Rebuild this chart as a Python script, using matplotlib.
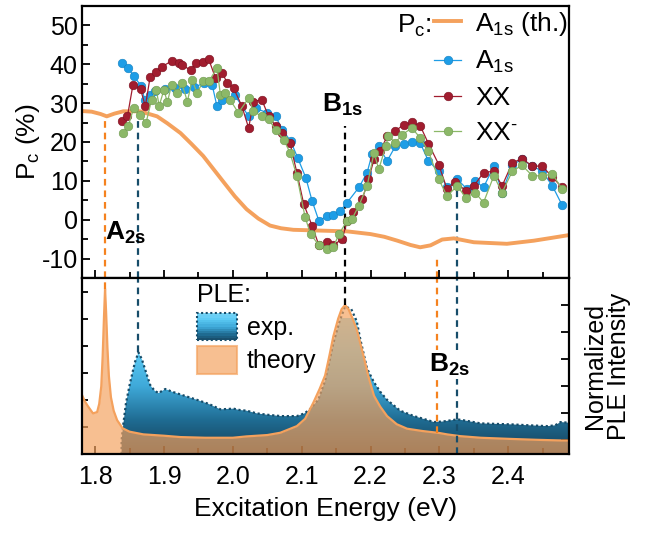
import numpy as np
import matplotlib
matplotlib.use("Agg")
import matplotlib.pyplot as plt
from matplotlib.patches import Polygon, Patch, Rectangle
from matplotlib.legend_handler import HandlerBase
from matplotlib.ticker import MultipleLocator
import matplotlib.colors as mcolors

plt.rcParams['font.family'] = ['Liberation Sans', 'DejaVu Sans']
plt.rcParams['mathtext.fontset'] = 'custom'
plt.rcParams['mathtext.rm'] = 'Liberation Sans'
plt.rcParams['mathtext.it'] = 'Liberation Sans:italic'
plt.rcParams['mathtext.bf'] = 'Liberation Sans:bold'
plt.rcParams['axes.unicode_minus'] = False

# ---- top panel: circular polarisation (%)
e_a1s = [1.839, 1.848, 1.856, 1.867, 1.872, 1.880, 1.887, 1.902, 1.916, 1.931, 1.943, 1.958,
         1.970, 1.977, 1.985, 2.003, 2.023, 2.033, 2.050, 2.062, 2.072, 2.084, 2.094, 2.106,
         2.115, 2.125, 2.137, 2.146, 2.156, 2.166, 2.183, 2.195, 2.202, 2.212, 2.224, 2.236,
         2.248, 2.260, 2.272, 2.284, 2.299, 2.311, 2.326, 2.340, 2.352, 2.364, 2.379, 2.391,
         2.406, 2.420, 2.435, 2.449, 2.464, 2.478]
pc_a1s = [40.4, 39.0, 37.0, 34.4, 30.9, 32.0, 33.0, 33.6, 34.0, 33.7, 34.1, 35.1,
          34.7, 29.2, 30.9, 32.0, 26.6, 28.7, 27.5, 26.6, 23.2, 20.2, 16.0, 10.8,
          4.9, -0.3, 1.0, 1.2, 2.3, 4.4, 8.3, 12.1, 16.8, 18.9, 15.1, 18.9,
          19.4, 20.0, 19.8, 15.1, 12.5, 8.3, 10.4, 7.9, 10.0, 8.3, 13.8, 7.0,
          14.2, 15.5, 13.8, 12.5, 8.7, 3.8]

e_xx = [1.839, 1.847, 1.855, 1.866, 1.873, 1.880, 1.888, 1.897, 1.912, 1.922, 1.926, 1.939,
        1.946, 1.956, 1.965, 1.975, 1.985, 1.992, 2.001, 2.013, 2.023, 2.030, 2.042, 2.052,
        2.062, 2.071, 2.083, 2.093, 2.103, 2.115, 2.125, 2.137, 2.146, 2.159, 2.166, 2.175,
        2.188, 2.197, 2.205, 2.214, 2.224, 2.236, 2.248, 2.260, 2.272, 2.284, 2.299, 2.311,
        2.323, 2.338, 2.350, 2.364, 2.379, 2.391, 2.406, 2.420, 2.435, 2.449, 2.464, 2.478]
pc_xx = [25.3, 26.6, 34.7, 33.6, 29.2, 36.8, 38.1, 39.4, 40.9, 40.3, 39.8, 38.5,
         40.3, 40.7, 41.3, 36.4, 37.7, 35.1, 33.9, 29.3, 23.6, 30.4, 30.9, 26.6,
         24.2, 22.3, 19.8, 12.1, 4.0, -1.5, -6.6, -5.8, -6.6, -4.9, -0.3, 1.9,
         5.3, 10.4, 15.5, 17.6, 21.5, 22.8, 24.5, 25.1, 24.2, 19.6, 14.2, 7.9,
         9.7, 7.5, 8.7, 12.1, 12.5, 8.7, 14.7, 15.7, 13.8, 13.8, 11.0, 8.3]

e_xxm = [1.840, 1.848, 1.856, 1.865, 1.874, 1.882, 1.889, 1.893, 1.900, 1.905, 1.911, 1.919,
         1.926, 1.934, 1.941, 1.948, 1.957, 1.965, 1.977, 1.982, 1.989, 1.996, 2.008, 2.023,
         2.030, 2.042, 2.052, 2.062, 2.074, 2.083, 2.093, 2.105, 2.113, 2.125, 2.137, 2.146,
         2.154, 2.166, 2.173, 2.183, 2.195, 2.205, 2.212, 2.222, 2.226, 2.236, 2.246, 2.260,
         2.272, 2.284, 2.299, 2.311, 2.326, 2.338, 2.352, 2.364, 2.379, 2.391, 2.406, 2.420,
         2.435, 2.449, 2.464, 2.478]
pc_xxm = [22.3, 24.0, 28.7, 27.0, 24.9, 30.9, 33.4, 29.3, 33.4, 30.2, 34.7, 32.6,
          35.1, 30.4, 36.0, 32.6, 35.6, 35.6, 39.0, 32.1, 32.6, 30.9, 27.5, 31.3,
          27.9, 26.6, 25.8, 23.2, 20.6, 17.2, 11.3, 0.6, -3.7, -6.6, -7.5, -7.1,
          -3.7, -0.3, 0.2, 3.6, 8.7, 17.2, 13.0, 18.9, 21.5, 19.8, 21.9, 23.6,
          21.1, 17.6, 10.4, 6.1, 8.7, 5.7, 7.0, 4.4, 11.3, 7.0, 12.5, 14.0,
          11.3, 11.3, 11.7, 8.0]

e_th = [1.778, 1.795, 1.808, 1.817, 1.828, 1.841, 1.865, 1.890, 1.905, 1.924, 1.940, 1.957,
        1.972, 1.987, 2.003, 2.020, 2.037, 2.054, 2.070, 2.088, 2.127, 2.166, 2.200, 2.220,
        2.239, 2.258, 2.272, 2.287, 2.304, 2.321, 2.350, 2.398, 2.437, 2.462, 2.490]
pc_th = [28.0, 27.8, 27.2, 26.6, 27.3, 27.9, 27.9, 26.6, 24.8, 22.3, 19.5, 16.4,
         13.0, 9.6, 6.0, 2.7, 0.3, -1.5, -2.2, -2.6, -2.8, -3.0, -3.7, -4.4,
         -5.4, -6.5, -7.1, -6.6, -5.1, -4.8, -5.8, -6.2, -5.4, -4.7, -3.9]

# ---- bottom panel: normalized PLE
e_ple_th = [1.778, 1.785, 1.790, 1.797, 1.803, 1.806, 1.809, 1.811, 1.813, 1.8145, 1.816, 1.818,
            1.820, 1.823, 1.827, 1.832, 1.840, 1.850, 1.870, 1.900, 1.924, 1.960, 2.000, 2.020,
            2.050, 2.069, 2.093, 2.105, 2.117, 2.126, 2.134, 2.140, 2.146, 2.153, 2.158, 2.163,
            2.168, 2.174, 2.180, 2.190, 2.197, 2.205, 2.214, 2.224, 2.238, 2.253, 2.275, 2.292,
            2.300, 2.311, 2.330, 2.360, 2.400, 2.440, 2.476, 2.490]
ple_th = [0.37, 0.29, 0.25, 0.20, 0.21, 0.27, 0.40, 0.62, 0.92, 1.12, 0.95, 0.68,
          0.48, 0.32, 0.22, 0.15, 0.09, 0.065, 0.045, 0.035, 0.025, 0.02, 0.02, 0.03,
          0.04, 0.057, 0.106, 0.16, 0.28, 0.38, 0.48, 0.62, 0.77, 0.9, 0.97, 1.0,
          0.97, 0.9, 0.82, 0.62, 0.47, 0.33, 0.25, 0.18, 0.12, 0.087, 0.07, 0.06,
          0.055, 0.045, 0.032, 0.02, 0.012, 0.005, 0.0, 0.0]

e_ple_exp = [1.8385, 1.841, 1.845, 1.851, 1.858, 1.863, 1.868, 1.873, 1.880, 1.886, 1.892, 1.902,
             1.912, 1.924, 1.936, 1.948, 1.965, 1.982, 2.001, 2.010, 2.020, 2.035, 2.050, 2.070,
             2.093, 2.104, 2.112, 2.124, 2.134, 2.146, 2.155, 2.163, 2.172, 2.180, 2.185, 2.195,
             2.205, 2.214, 2.224, 2.243, 2.263, 2.280, 2.292, 2.305, 2.326, 2.340, 2.360, 2.385,
             2.408, 2.430, 2.457, 2.468, 2.476, 2.490]
ple_exp = [0.0, 0.12, 0.28, 0.43, 0.58, 0.65, 0.6, 0.52, 0.41, 0.37, 0.35, 0.38,
           0.36, 0.34, 0.32, 0.30, 0.27, 0.23, 0.235, 0.225, 0.22, 0.2, 0.19, 0.18,
           0.18, 0.2, 0.23, 0.3, 0.44, 0.72, 0.88, 0.99, 0.97, 0.88, 0.75, 0.53,
           0.43, 0.36, 0.30, 0.22, 0.18, 0.155, 0.136, 0.14, 0.156, 0.145, 0.126, 0.122,
           0.118, 0.112, 0.106, 0.112, 0.136, 0.13]

orange = '#f4a15d'
orange_dash = '#f5821f'
teal = '#174d6a'
blue = '#1e9de6'
red = '#a11d2f'
green = '#8cb868'

xlim = (1.781, 2.488)
dash = (0, (3, 2.2))

fig = plt.figure(figsize=(6.58, 5.34), dpi=100)
ax1 = fig.add_axes([0.1246, 0.4794, 0.7400, 0.5094])
ax2 = fig.add_axes([0.1246, 0.1498, 0.7400, 0.3296])

# ---------- top panel
ylim1 = (-15, 55)
ax1.plot([1.8145, 1.8145], [ylim1[0], 25.5], color=orange_dash, lw=1.6, ls=dash, zorder=1)
ax1.plot([1.8625, 1.8625], [ylim1[0], 25.5], color=teal, lw=1.6, ls=dash, zorder=1)
ax1.plot([2.163, 2.163], [ylim1[0], 24.0], color='black', lw=1.6, ls=dash, zorder=1)
ax1.plot([2.297, 2.297], [ylim1[0], -9.0], color=orange_dash, lw=1.6, ls=dash, zorder=1)
ax1.plot([2.326, 2.326], [ylim1[0], 8.0], color=teal, lw=1.6, ls=dash, zorder=1)

l_th, = ax1.plot(e_th, pc_th, color=orange, lw=2.8, zorder=2, label=r'A$_{\mathrm{1s}}$ (th.)')
mk = dict(marker='o', ms=6.2, lw=0.9, mew=0.4, zorder=3)
l_a, = ax1.plot(e_a1s, pc_a1s, color=blue, mec='#1580c0', label=r'A$_{\mathrm{1s}}$', **mk)
l_xx, = ax1.plot(e_xx, pc_xx, color=red, mec='#7a1020', label='XX', **mk)
l_xxm, = ax1.plot(e_xxm, pc_xxm, color=green, mec='#6f9a50', label=r'XX$^{\text{-}}$', **mk)

ax1.set_xlim(*xlim)
ax1.set_ylim(*ylim1)
ax1.set_ylabel(r'P$_{\mathrm{c}}$ (%)', fontsize=19, labelpad=0)
ax1.yaxis.set_major_locator(MultipleLocator(10))
ax1.yaxis.set_minor_locator(MultipleLocator(5))
ax1.xaxis.set_major_locator(MultipleLocator(0.1))
ax1.xaxis.set_minor_locator(MultipleLocator(0.05))
ax1.tick_params(axis='both', which='both', direction='in', width=1.3)
ax1.tick_params(which='major', length=6)
ax1.tick_params(which='minor', length=4)
ax1.tick_params(axis='y', labelsize=18, pad=3)
ax1.tick_params(axis='x', labelbottom=False)

leg1 = ax1.legend(handles=[l_th, l_a, l_xx, l_xxm], loc='upper right', bbox_to_anchor=(1.02, 1.025),
                  frameon=False, fontsize=19, handlelength=1.0, handletextpad=0.55,
                  labelspacing=0.42, borderaxespad=0.0)
ax1.text(0.646, 0.975, r'P$_{\mathrm{c}}$:', transform=ax1.transAxes, fontsize=19, ha='left', va='top')

ax1.text(1.814, -3.5, r'$\mathbf{A_{2s}}$', fontsize=19, ha='left', va='center')
ax1.text(2.160, 29.5, r'$\mathbf{B_{1s}}$', fontsize=19, ha='center', va='center')

# ---------- bottom panel
ylim2 = (-0.1, 1.2)
ax2.set_xlim(*xlim)
ax2.set_ylim(*ylim2)

# experimental PLE with vertical gradient
grad_cols = [mcolors.to_rgb('#163f57'), mcolors.to_rgb('#1f6c93'), mcolors.to_rgb('#3fa9d9'),
             mcolors.to_rgb('#5ccbf5'), mcolors.to_rgb('#86d9f7')]
cmap = mcolors.LinearSegmentedColormap.from_list('ple', grad_cols)
grad = np.linspace(0, 1, 256).reshape(-1, 1)
im = ax2.imshow(grad, cmap=cmap, extent=[xlim[0], xlim[1], ylim2[0], 0.9], origin='lower',
                aspect='auto', zorder=1, interpolation='bilinear')
verts = [(e_ple_exp[0], ylim2[0])] + list(zip(e_ple_exp, ple_exp)) + [(e_ple_exp[-1], ylim2[0])]
clip = Polygon(verts, closed=True, transform=ax2.transData, facecolor='none', edgecolor='none')
ax2.add_patch(clip)
im.set_clip_path(clip)
ax2.plot([e_ple_exp[0]] + e_ple_exp, [ylim2[0]] + ple_exp, color=teal, lw=1.6, ls=(0, (1, 1.2)), zorder=2)

# theory PLE
ax2.fill_between(e_ple_th, ple_th, ylim2[0], color=orange, alpha=0.68, lw=0, zorder=3)
ax2.plot(e_ple_th, ple_th, color=orange, lw=1.6, zorder=4)

ax2.plot([1.8145, 1.8145], [1.12, ylim2[1]], color=orange_dash, lw=1.6, ls=dash, zorder=5)
ax2.plot([1.8625, 1.8625], [0.65, ylim2[1]], color=teal, lw=1.6, ls=dash, zorder=5)
ax2.plot([2.163, 2.163], [1.0, ylim2[1]], color='black', lw=1.6, ls=dash, zorder=5)
ax2.plot([2.297, 2.297], [0.055, ylim2[1]], color=orange_dash, lw=1.6, ls=dash, zorder=5)
ax2.plot([2.326, 2.326], [ylim2[0], ylim2[1]], color=teal, lw=1.6, ls=dash, zorder=5)

ax2.text(2.314, 0.56, r'$\mathbf{B_{2s}}$', fontsize=19, ha='center', va='center', zorder=6,
         bbox=dict(facecolor='white', edgecolor='none', pad=1.0))

ax2.xaxis.set_major_locator(MultipleLocator(0.1))
ax2.xaxis.set_minor_locator(MultipleLocator(0.05))
ax2.yaxis.set_major_locator(MultipleLocator(0.2))
ax2.yaxis.set_minor_locator(MultipleLocator(0.1))
ax2.tick_params(axis='both', which='both', direction='in', width=1.3, zorder=7)
ax2.tick_params(which='major', length=6)
ax2.tick_params(which='minor', length=4)
ax2.tick_params(axis='x', labelsize=18, pad=8)
ax2.tick_params(axis='y', left=False, labelleft=False, right=True, labelright=False)
ax2.yaxis.set_label_position('right')
ax2.set_ylabel('Normalized\nPLE Intensity', fontsize=18, rotation=90, labelpad=10, linespacing=1.0)
ax2.set_xlabel('Excitation Energy (eV)', fontsize=19, labelpad=6)


class GradHandler(HandlerBase):
    def create_artists(self, legend, orig_handle, xdescent, ydescent, width, height, fontsize, trans):
        arts = []
        n = 12
        for i in range(n):
            r = Rectangle((-xdescent, -ydescent + height * i / n), width, height / n + 0.3,
                          facecolor=cmap(0.1 + 0.8 * i / (n - 1)), edgecolor='none', transform=trans)
            arts.append(r)
        arts.append(Rectangle((-xdescent, -ydescent), width, height, facecolor='none',
                              edgecolor=teal, lw=1.5, ls=(0, (1, 1.2)), transform=trans))
        return arts


h_exp = Patch(label='exp.')
h_th = Patch(facecolor=orange, alpha=0.68, edgecolor=orange, lw=1.5, label='theory')
leg2 = ax2.legend(handles=[h_exp, h_th], handler_map={h_exp: GradHandler()}, title='PLE:',
                  loc='upper left', bbox_to_anchor=(0.215, 1.03), frameon=False, fontsize=18,
                  title_fontsize=18, handlelength=1.6, handleheight=1.3, handletextpad=0.4,
                  labelspacing=0.25, borderaxespad=0.0)
leg2._legend_box.align = 'left'
leg2.set_zorder(8)

for ax in (ax1, ax2):
    for s in ax.spines.values():
        s.set_linewidth(1.6)
        s.set_zorder(9)

fig.savefig('out.png', dpi=100)
